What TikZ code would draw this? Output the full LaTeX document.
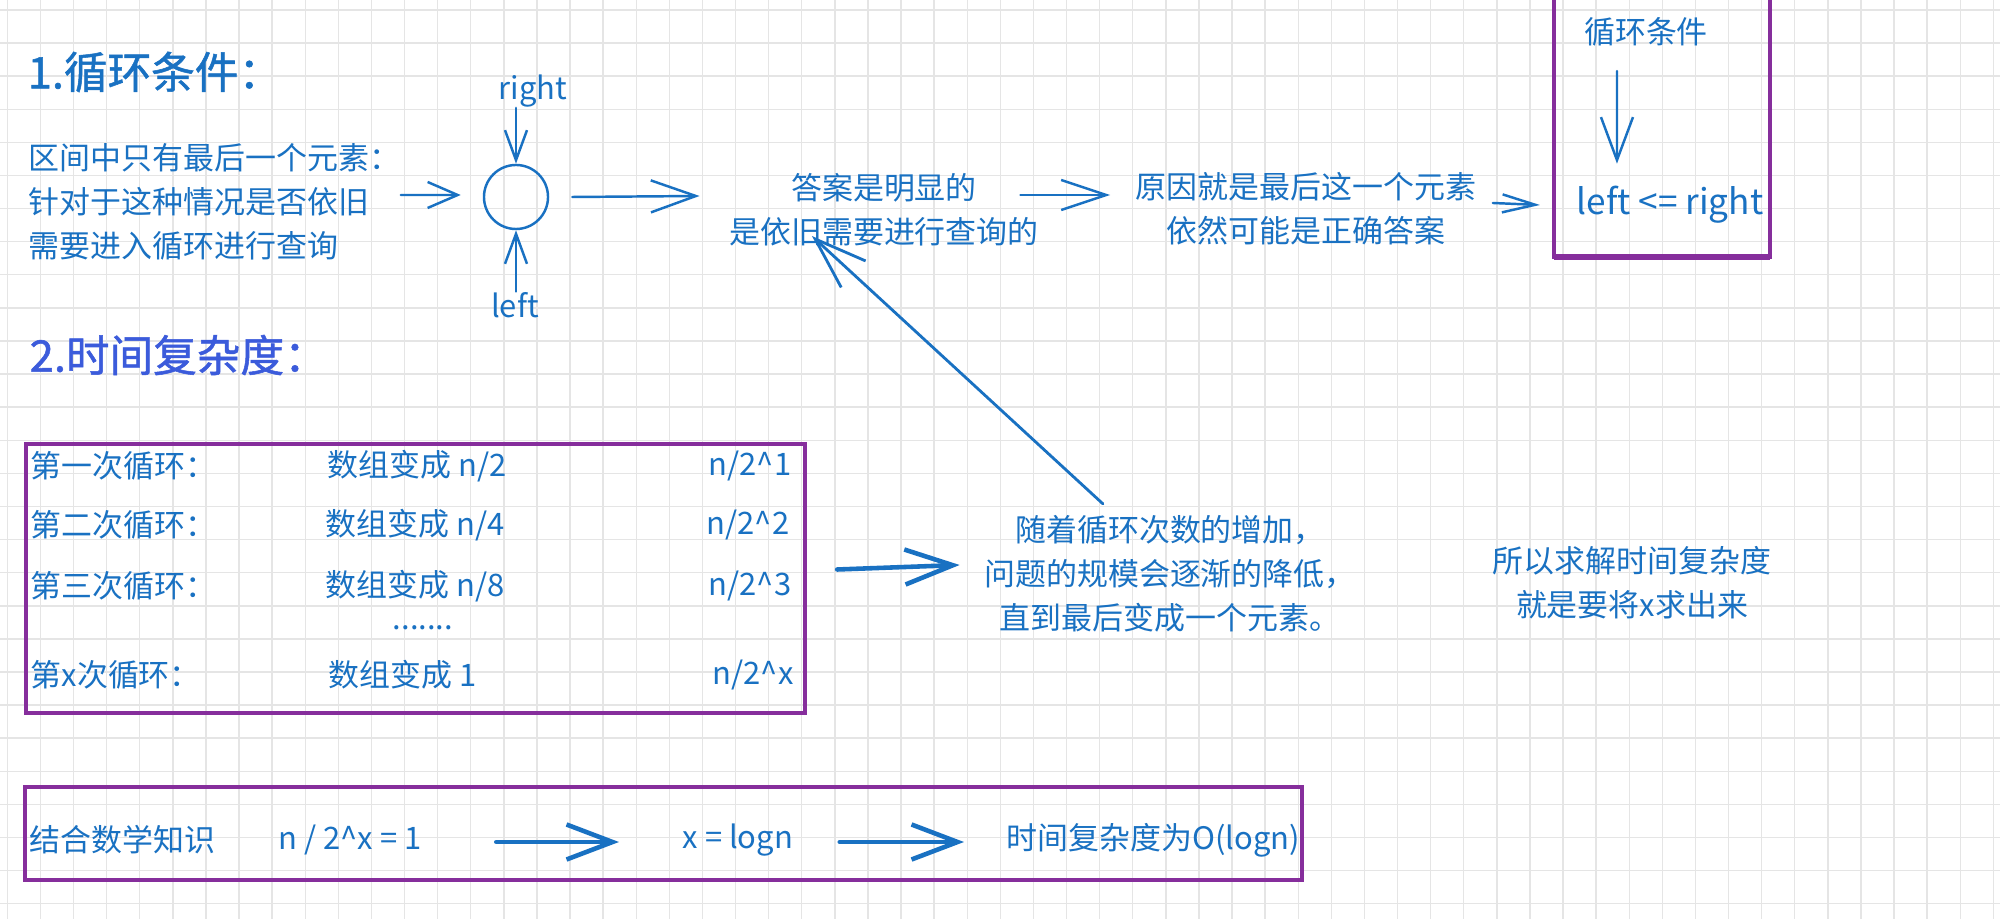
\documentclass[tikz,border=0pt]{standalone}
\usepackage{fontspec}
\setmainfont{Noto Sans CJK SC}
\newfontfamily\headfont[FakeBold=1.2]{Noto Sans CJK SC}
\usetikzlibrary{arrows.meta}
\definecolor{inkblue}{HTML}{1971C2}
\definecolor{inkindigo}{HTML}{3B5BDB}
\definecolor{inkgrape}{HTML}{862E9C}
\definecolor{gridgray}{HTML}{E5E5E5}

\begin{document}
\begin{tikzpicture}[x=0.01cm, y=-0.01cm,
  txt/.style={text=inkblue, inner sep=0pt, font=\fontsize{8.8}{12.5}\selectfont},
  head/.style={text=inkblue, inner sep=0pt, font=\headfont\fontsize{12.4}{14}\selectfont},
  barb/.style={draw=inkblue, line width=0.7pt, line cap=round, -{Straight Barb[length=4.5mm, width=3.2mm]}},
  thickbarb/.style={barb, line width=1.3pt},
  box/.style={draw=inkgrape, line width=1.1pt, inner sep=0pt}]
\useasboundingbox (0,0) rectangle (2000,919);
\fill[white] (0,0) rectangle (2000,919);
\foreach \i in {0,...,60} \draw[gridgray, line width=0.4pt] (7.3+33.1*\i,0) -- (7.3+33.1*\i,919);
\foreach \j in {0,...,27} \draw[gridgray, line width=0.4pt] (0,10+33.1*\j) -- (2000,10+33.1*\j);

\node[head, anchor=west] (h1) at (27,72) {1.循环条件：};
\node[txt, anchor=west, align=left] (q1) at (28,202) {区间中只有最后一个元素：\\针对于这种情况是否依旧\\需要进入循环进行查询};
\node[draw=inkblue, line width=0.7pt, circle, minimum size=0.64cm, inner sep=0pt] (cell) at (516,197) {};
\node[txt] (rt) at (533,91) {right};
\node[txt] (lf) at (515,305) {left};
\node[txt, align=center] (ans) at (884,210) {答案是明显的\\是依旧需要进行查询的};
\node[txt, align=center] (why) at (1306,209) {原因就是最后这一个元素\\依然可能是正确答案};
\node[txt] (cond) at (1646,32) {循环条件};
\node[txt, font=\fontsize{10}{12}\selectfont] (le) at (1670,205) {left <= right};
\draw[box] (1554,-10) -- (1554,257) -- (1770,257) -- (1770,-10);
\draw[inkgrape, line width=1.6pt] (1554,257) -- (1770,257);

\draw[barb, -{Straight Barb[length=3mm, width=2.6mm]}] ([yshift=0.07cm]q1.east) -- ([xshift=-0.22cm,yshift=0.02cm]cell.west);
\draw[barb, -{Straight Barb[length=3mm, width=2.2mm]}] (cell.north |- rt.south) -- (cell.north);
\draw[barb, -{Straight Barb[length=3mm, width=2.2mm]}] (cell.south |- lf.north) -- (cell.south);
\draw[barb] ([xshift=0.23cm]cell.east) -- ([xshift=-0.29cm,yshift=0.14cm]ans.west);
\draw[barb, -{Straight Barb[length=4.5mm, width=3mm]}] ([xshift=-0.19cm,yshift=0.15cm]ans.east) -- ([xshift=-0.25cm,yshift=0.14cm]why.west);
\draw[barb, -{Straight Barb[length=3.3mm, width=1.8mm]}] ([xshift=0.16cm,yshift=0.06cm]why.east) -- ([xshift=-0.36cm]le.west);
\draw[barb, -{Straight Barb[length=4.3mm, width=3.2mm]}] ([xshift=-0.29cm,yshift=-0.24cm]cond.south) -- ([xshift=-0.53cm,yshift=0.22cm]le.north);

\node[head, text=inkindigo, anchor=west] (h2) at (29,355) {2.时间复杂度：};
\node[box, minimum width=7.79cm, minimum height=2.69cm] (loops) at (415.5,578.5) {};
\node[txt, anchor=west] (r1a) at (30,466) {第一次循环：};
\node[txt, anchor=west] (r1b) at (327,466) {数组变成 n/2};
\node[txt, anchor=west] (r1c) at (708,466) {n/2\textasciicircum 1};
\node[txt, anchor=west] (r2a) at (30,525) {第二次循环：};
\node[txt, anchor=west] (r2b) at (325,525) {数组变成 n/4};
\node[txt, anchor=west] (r2c) at (706,525) {n/2\textasciicircum 2};
\node[txt, anchor=west] (r3a) at (30,586) {第三次循环：};
\node[txt, anchor=west] (r3b) at (325,586) {数组变成 n/8};
\node[txt, anchor=west] (r3c) at (708,586) {n/2\textasciicircum 3};
\node[txt] (dots) at (423,628) {.......};
\node[txt, anchor=west] (r4a) at (30,675) {第x次循环：};
\node[txt, anchor=west] (r4b) at (328,675) {数组变成 1};
\node[txt, anchor=west] (r4c) at (712,675) {n/2\textasciicircum x};

\node[txt, align=center] (dec) at (1170,574) {随着循环次数的增加，\\问题的规模会逐渐的降低，\\直到最后变成一个元素。};
\node[txt, align=center] (sol) at (1632,583) {所以求解时间复杂度\\就是要将x求出来};
\draw[thickbarb, -{Straight Barb[length=4.8mm, width=3.5mm]}] ([xshift=0.3cm,yshift=0.09cm]loops.east) -- ([xshift=-0.24cm,yshift=0.09cm]dec.west);
\draw[barb, line width=0.8pt, -{Straight Barb[length=5.2mm, width=3.6mm]}] ([xshift=-0.67cm,yshift=0.11cm]dec.north) -- ([xshift=-0.72cm,yshift=0.11cm]ans.south);

\node[box, minimum width=12.77cm, minimum height=0.93cm] (mathbox) at (663.5,833.5) {};
\node[txt, anchor=west] (know) at (29,840) {结合数学知识};
\node[txt, anchor=west] (eq) at (278,840) {n / 2\textasciicircum x = 1};
\node[txt, anchor=west] (xl) at (682,840) {x = logn};
\node[txt, anchor=west] (res) at (1006,840) {时间复杂度为O(logn)};
\draw[thickbarb, -{Straight Barb[length=4.6mm, width=3.5mm]}] ([xshift=0.74cm,yshift=-0.02cm]eq.east) -- ([xshift=-0.63cm,yshift=-0.02cm]xl.west);
\draw[thickbarb, -{Straight Barb[length=4.6mm, width=3.5mm]}] ([xshift=0.46cm,yshift=-0.02cm]xl.east) -- ([xshift=-0.42cm,yshift=-0.02cm]res.west);
\end{tikzpicture}
\end{document}
